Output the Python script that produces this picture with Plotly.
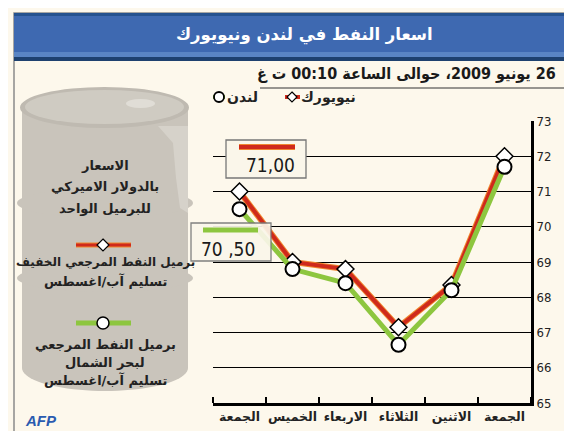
import math
import plotly.graph_objects as go

# ---------------- data ----------------
days = ["الجمعة", "الخميس", "الاربعاء", "الثلاثاء", "الاثنين", "الجمعة"]
newyork = [71.0, 69.0, 68.8, 67.15, 68.35, 72.0]
london = [70.5, 68.8, 68.4, 66.65, 68.2, 71.7]
y_ticks = [65, 66, 67, 68, 69, 70, 71, 72, 73]
ny_label = "71,00"
ldn_label = "70 ,50"

title = "اسعار النفط في لندن ونيويورك"
subtitle = "26 يونيو 2009، حوالى الساعة 00:10 ت غ"

W, H = 572, 431
L, R, T, B = 205, 523, 113, 395

def px(x):
    return (x - L) / (R - L)

def py(y):
    return (B - y) / (B - T)

RED = "#cf2a1c"
ORANGE = "#f0862e"
GREEN = "#8dc63f"
CREAM = "#fdf8ec"
BARREL = "#c9c4bb"
BARREL_LIGHT = "#d6d2ca"
AR_FONT = "DejaVu Sans"
AR_COND = "DejaVu Sans Condensed"
NUM_FONT = "Liberation Sans Narrow, DejaVu Sans Condensed, Arial"
RLE, PDF = "\u202b", "\u202c"

x = list(range(len(days)))

fig = go.Figure()
fig.add_trace(go.Scatter(x=x, y=newyork, mode="lines", line=dict(color=ORANGE, width=6),
                         hoverinfo="skip", showlegend=False))
fig.add_trace(go.Scatter(x=x, y=newyork, mode="lines+markers", name="نيويورك",
                         line=dict(color=RED, width=4),
                         marker=dict(symbol="diamond", size=13, color="white",
                                     line=dict(color="black", width=1.5)),
                         showlegend=False))
fig.add_trace(go.Scatter(x=x, y=london, mode="lines+markers", name="لندن",
                         line=dict(color=GREEN, width=5),
                         marker=dict(symbol="circle", size=14, color="white",
                                     line=dict(color="black", width=2)),
                         showlegend=False))

shapes = []

def rect(x0, y0, x1, y1, fill, line_color=None, lw=0, layer="below", opacity=1):
    shapes.append(dict(type="rect", xref="paper", yref="paper",
                       x0=px(x0), x1=px(x1), y0=py(y1), y1=py(y0),
                       fillcolor=fill, opacity=opacity,
                       line=dict(color=line_color or "rgba(0,0,0,0)", width=lw),
                       layer=layer))

def ellipse(x0, y0, x1, y1, fill, line_color=None, lw=0, layer="below"):
    shapes.append(dict(type="circle", xref="paper", yref="paper",
                       x0=px(x0), x1=px(x1), y0=py(y1), y1=py(y0),
                       fillcolor=fill,
                       line=dict(color=line_color or "rgba(0,0,0,0)", width=lw),
                       layer=layer))

def path(points, fill=None, line_color=None, lw=0, layer="below", closed=True):
    d = "M " + " L ".join(f"{px(a):.5f},{py(b):.5f}" for a, b in points)
    if closed:
        d += " Z"
    shapes.append(dict(type="path", xref="paper", yref="paper", path=d,
                       fillcolor=fill or "rgba(0,0,0,0)",
                       line=dict(color=line_color or "rgba(0,0,0,0)", width=lw),
                       layer=layer))

def hline(x0, x1, y, color, lw, layer="below"):
    shapes.append(dict(type="line", xref="paper", yref="paper",
                       x0=px(x0), x1=px(x1), y0=py(y), y1=py(y),
                       line=dict(color=color, width=lw), layer=layer))

# outer frame
rect(6, 5, 566, 424, CREAM, "#8a8a8a", 1.5)
# banner
rect(6, 5, 566, 53, "#3e69b1")
rect(6, 5, 566, 8, "#25528f")
rect(6, 44, 566, 49, "#5a85c4")
rect(6, 49, 566, 53, "#1e416f")
# subtitle underline
hline(252, 565, 80, "#333333", 1)

# ---- barrel ----
body = [(14, 100), (14, 360)]
for i in range(41):
    ang = math.radians(180 - 180 * i / 40)
    body.append((97 + 83 * math.cos(ang), 360 + 23 * math.sin(ang)))
body += [(180, 100)]
path(body, BARREL)
ellipse(9, 180, 185, 210, BARREL)
ellipse(9, 256, 185, 284, BARREL)
hl = [(150, 118), (165, 135), (168, 170), (172, 200), (180, 205), (180, 118)]
path(hl, BARREL_LIGHT)
ellipse(12, 79, 181, 120, "#bfbab1")
ellipse(17, 82, 176, 116, "#cfcbc2")
ellipse(118, 91, 147, 100, "#e0ddd6")

# barrel legend samples
hline(68, 123, 237, ORANGE, 5)
hline(68, 123, 237, RED, 3)
path([(95, 231), (101, 237), (95, 243), (89, 237)], "white", "black", 1.2)
hline(68, 123, 315, GREEN, 5)
ellipse(89, 309, 101, 321, "white", "black", 1.5)

# top legend samples
hline(277, 292, 89, RED, 4, layer="above")
path([(284, 84), (289, 89), (284, 94), (279, 89)], "white", "black", 1.2, layer="above")
hline(205, 217, 89, GREEN, 4, layer="above")
ellipse(206, 84, 216, 94, "white", "black", 1.8, layer="above")

# value boxes
rect(218, 132, 298, 170, "#faf6ea", "#777777", 1.3, layer="above")
hline(231, 287, 139, ORANGE, 6, layer="above")
hline(231, 287, 139, RED, 4, layer="above")
rect(183, 215, 263, 253, "#faf6ea", "#777777", 1.3, layer="above", opacity=0.92)
hline(195, 250, 222, GREEN, 5, layer="above")

annotations = []

def text(xp, yp, s, size, color="#222222", family=AR_FONT, xanchor="center", bold=True):
    annotations.append(dict(xref="paper", yref="paper", x=px(xp), y=py(yp),
                            text=(f"<b>{s}</b>" if bold else s),
                            showarrow=False, xanchor=xanchor, yanchor="middle",
                            font=dict(family=family, size=size, color=color)))

text(296, 27, title, 16.5, color="white", family=AR_FONT)
text(398, 66, RLE + subtitle + PDF, 16, color="#1a1a1a", family=AR_COND)
text(350, 89, "نيويورك", 14, xanchor="right")
text(252, 89, "لندن", 14, xanchor="right")

text(97, 157, "الاسعار", 13)
text(97, 178, "بالدولار الاميركي", 13)
text(97, 200, "للبرميل الواحد", 13)
text(97, 254, "برميل النفط المرجعي الخفيف", 12)
text(97, 273, "تسليم آب/اغسطس", 13)
text(97, 336, "برميل النفط المرجعي", 13)
text(97, 354, "لبحر الشمال", 13)
text(97, 372, "تسليم آب/اغسطس", 13)

text(289, 157, ny_label, 19, color="#1a1a1a", family=NUM_FONT, xanchor="right", bold=False)
text(249, 241, ldn_label, 19, color="#1a1a1a", family=NUM_FONT, xanchor="right", bold=False)

annotations.append(dict(xref="paper", yref="paper", x=px(15), y=py(412), text="<b><i>AFP</i></b>",
                        showarrow=False, xanchor="left", yanchor="middle",
                        font=dict(family="Liberation Sans, Arial", size=15, color="#2a5bb0")))

fig.update_layout(
    width=W, height=H,
    margin=dict(l=L, r=W - R, t=T, b=H - B, pad=0),
    paper_bgcolor=CREAM,
    plot_bgcolor="rgba(0,0,0,0)",
    showlegend=False,
    shapes=shapes,
    annotations=annotations,
    xaxis=dict(range=[-0.5, len(days) - 0.5], tickvals=x, ticktext=[f"<b>{d}</b>" for d in days],
               ticks="", showgrid=False, zeroline=False, showline=True, linecolor="black", linewidth=3,
               tickfont=dict(family=AR_FONT, size=12.5, color="#222222"),
               minor=dict(tickvals=[i - 0.5 for i in range(len(days) + 1)], ticks="inside",
                          ticklen=6, tickwidth=2, tickcolor="black", showgrid=False),
               fixedrange=True),
    yaxis=dict(range=[65, 73], tickvals=y_ticks, side="right", ticks="", showgrid=True,
               gridcolor="black", gridwidth=1, zeroline=False, showline=True, linecolor="black",
               linewidth=3, tickfont=dict(family=NUM_FONT, size=13, color="#222222"),
               fixedrange=True),
    font=dict(family=AR_FONT),
)

fig.write_html("out.html")
